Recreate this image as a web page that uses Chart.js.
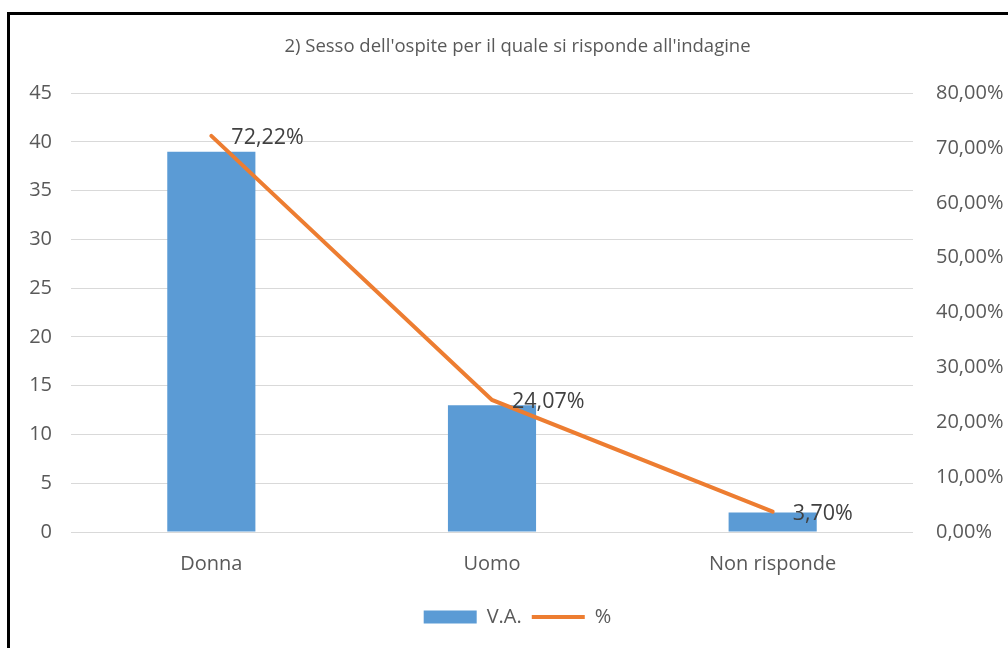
<!DOCTYPE html>
<html><head><meta charset="utf-8">
<script src="https://cdn.jsdelivr.net/npm/chart.js@4.4.0/dist/chart.umd.min.js"></script>
<style>
html,body{margin:0;padding:0;background:#fff;overflow:hidden;width:1008px;height:648px;}
#frame{position:absolute;left:7px;top:12px;width:1100px;height:700px;border-left:3px solid #000;border-top:3px solid #000;box-sizing:border-box;}
#wrap{position:absolute;left:0;top:0;width:1035px;height:648px;}
</style></head><body>
<div id="frame"></div>
<div id="wrap"><canvas id="c" width="1035" height="648"></canvas></div>
<script>
const categories = ['Donna', 'Uomo', 'Non risponde'];
const vaValues = [39, 13, 2];
const pctValues = [72.22, 24.07, 3.70];
const seriesNames = ['V.A.', '%'];
const titleText = "2) Sesso dell'ospite per il quale si risponde all'indagine";

const FONT = "'Open Sans', sans-serif";
const GREY = '#595959';
const fmtPct = v => Number(v).toFixed(2).replace('.', ',') + '%';

const labelPlugin = {
  id: 'pctLabels',
  afterDatasetsDraw(chart) {
    const meta = chart.getDatasetMeta(1);
    const ctx = chart.ctx;
    ctx.save();
    ctx.font = "21.5px " + FONT;
    ctx.fillStyle = '#404040';
    ctx.textAlign = 'left';
    ctx.textBaseline = 'middle';
    meta.data.forEach((el, i) => {
      ctx.fillText(fmtPct(pctValues[i]), el.x + 20, el.y + 2);
    });
    ctx.restore();
  }
};

new Chart(document.getElementById('c'), {
  type: 'bar',
  data: {
    labels: categories,
    datasets: [
      {
        type: 'bar', label: seriesNames[0], data: vaValues, yAxisID: 'y',
        backgroundColor: '#5B9BD5', borderWidth: 0, pointStyle: 'rect',
        categoryPercentage: 1, barPercentage: 0.314, order: 1
      },
      {
        type: 'line', label: seriesNames[1], data: pctValues, yAxisID: 'y1',
        borderColor: '#ED7D31', backgroundColor: '#ED7D31', borderWidth: 4,
        pointRadius: 0, pointStyle: 'line', tension: 0, fill: false, order: 0,
        borderCapStyle: 'round'
      }
    ]
  },
  options: {
    responsive: false,
    animation: false,
    layout: { padding: { left: 0, right: 0, top: 0, bottom: 11 } },
    plugins: {
      tooltip: { enabled: false },
      title: {
        display: true, text: titleText, color: GREY,
        font: { family: FONT, size: 18.5, weight: 'normal' },
        padding: { top: 36, bottom: 35 }
      },
      legend: {
        position: 'bottom',
        labels: {
          usePointStyle: true, pointStyleWidth: 53, boxHeight: 13,
          color: GREY, padding: 10,
          font: { family: FONT, size: 20 },
          sort: (a, b) => a.datasetIndex - b.datasetIndex
        }
      }
    },
    scales: {
      x: {
        grid: { display: false },
        border: { display: false },
        ticks: { color: GREY, font: { family: FONT, size: 20 }, padding: 12 },
        afterFit: s => { s.height = 65; }
      },
      y: {
        position: 'left', min: 0, max: 45,
        grid: { color: '#d9d9d9', drawTicks: false, lineWidth: 1 },
        border: { display: false },
        ticks: { stepSize: 5, color: GREY, font: { family: FONT, size: 20 }, padding: 19 },
        afterFit: s => { s.width = 71; }
      },
      y1: {
        position: 'right', min: 0, max: 80,
        grid: { drawOnChartArea: false, drawTicks: false },
        border: { display: false },
        ticks: { stepSize: 10, color: GREY, font: { family: FONT, size: 20 }, padding: 23, callback: v => fmtPct(v) },
        afterFit: s => { s.width = 122; }
      }
    }
  },
  plugins: [labelPlugin]
});
</script>
</body></html>
